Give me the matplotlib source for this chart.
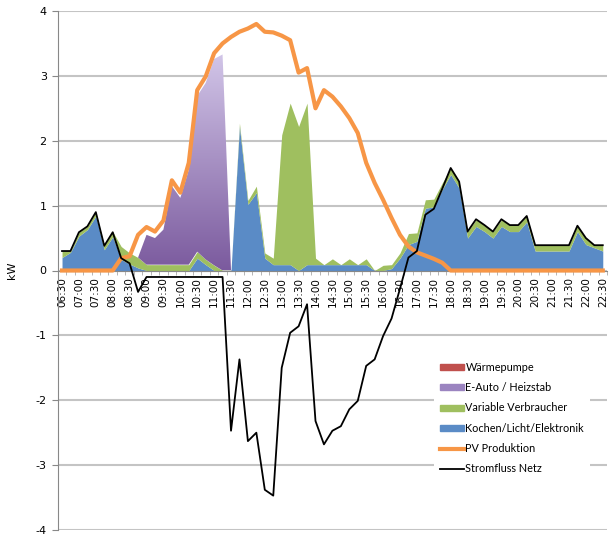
import numpy as np
import matplotlib
matplotlib.use('Agg')
import matplotlib.pyplot as plt
from matplotlib.patches import Patch
from matplotlib.lines import Line2D
from matplotlib.colors import LinearSegmentedColormap

plt.rcParams['axes.unicode_minus'] = False

# Zeitachse 06:30 - 22:30, 15-Minuten-Werte
zeiten = ['%02d:%02d' % divmod(6 * 60 + 30 + 15 * k, 60) for k in range(65)]

# Verbraucher (gestapelt), kW
kochen = [0.20, 0.28, 0.53, 0.63, 0.84, 0.32, 0.52, 0.17, 0.10, 0.04,
          0, 0, 0, 0, 0, 0, 0.19, 0.09, 0, 0,
          0, 2.22, 1.02, 1.20, 0.19, 0.09, 0.09, 0.09, 0, 0.09,
          0.09, 0.09, 0.09, 0.09, 0.09, 0.09, 0.09, 0, 0, 0.03,
          0.19, 0.40, 0.45, 0.96, 0.98, 1.25, 1.48, 1.27, 0.50, 0.68,
          0.60, 0.50, 0.68, 0.60, 0.60, 0.75, 0.30, 0.30, 0.30, 0.30,
          0.30, 0.60, 0.40, 0.35, 0.30]
variabel = [0.10, 0.02, 0.06, 0.05, 0.06, 0.06, 0.08, 0.20, 0.17, 0.16,
            0.09, 0.09, 0.09, 0.09, 0.09, 0.09, 0.10, 0.08, 0.08, 0,
            0, 0.05, 0.06, 0.10, 0.08, 0.10, 2.00, 2.49, 2.22, 2.49,
            0.10, 0, 0.09, 0, 0.09, 0, 0.09, 0, 0.08, 0.06,
            0.08, 0.17, 0.13, 0.13, 0.12, 0.10, 0.10, 0.10, 0.10, 0.10,
            0.10, 0.10, 0.10, 0.10, 0.10, 0.09, 0.09, 0.09, 0.09, 0.09,
            0.09, 0.09, 0.10, 0.04, 0.09]
eauto = [0, 0, 0, 0, 0, 0, 0, 0, 0, 0,
         0.46, 0.41, 0.54, 1.21, 1.03, 1.46, 2.40, 2.72, 3.18, 3.33,
         0, 0, 0, 0, 0, 0, 0, 0, 0, 0,
         0, 0, 0, 0, 0, 0, 0, 0, 0, 0,
         0, 0, 0, 0, 0, 0, 0, 0, 0, 0,
         0, 0, 0, 0, 0, 0, 0, 0, 0, 0,
         0, 0, 0, 0, 0]
waermepumpe = [0] * 65

pv = [0, 0, 0, 0, 0, 0, 0, 0.19, 0.22, 0.55,
      0.67, 0.60, 0.77, 1.39, 1.20, 1.66, 2.78, 2.99, 3.35, 3.50,
      3.60, 3.68, 3.73, 3.80, 3.68, 3.67, 3.62, 3.55, 3.05, 3.12,
      2.50, 2.78, 2.68, 2.53, 2.35, 2.12, 1.66, 1.35, 1.09, 0.81,
      0.55, 0.37, 0.28, 0.23, 0.18, 0.12, 0, 0, 0, 0,
      0, 0, 0, 0, 0, 0, 0, 0, 0, 0,
      0, 0, 0, 0, 0]
netz = [0.30, 0.30, 0.59, 0.68, 0.90, 0.38, 0.59, 0.19, 0.11, -0.33,
        -0.10, -0.10, -0.10, -0.10, -0.10, -0.10, -0.10, -0.10, -0.10, -0.10,
        -2.47, -1.37, -2.63, -2.50, -3.38, -3.47, -1.50, -0.96, -0.86, -0.52,
        -2.32, -2.68, -2.47, -2.40, -2.14, -2.01, -1.47, -1.37, -1.01, -0.74,
        -0.28, 0.20, 0.30, 0.86, 0.95, 1.26, 1.58, 1.37, 0.60, 0.79,
        0.70, 0.60, 0.79, 0.70, 0.70, 0.84, 0.39, 0.39, 0.39, 0.39,
        0.39, 0.69, 0.50, 0.39, 0.39]

x = np.arange(len(zeiten))
fig = plt.figure(figsize=(6.14, 5.39), dpi=100)
ax = fig.add_axes([57.8 / 614, 9 / 539, 549.2 / 614, 519 / 539])

# gestapelte Flaechen
s1 = np.array(kochen)
s2 = s1 + np.array(variabel)
s3 = s2 + np.array(eauto)
s4 = s3 + np.array(waermepumpe)

ax.fill_between(x, 0, s1, color='#5a8bc6', lw=0, zorder=2)
ax.fill_between(x, s1, s2, color='#9fbf5f', lw=0, zorder=2)
poly = ax.fill_between(x, s2, s3, color='none', lw=0, zorder=2)
grad = np.linspace(0, 1, 256).reshape(-1, 1)
cmap = LinearSegmentedColormap.from_list('lila', ['#7b5a9e', '#d2c6e8'])
im = ax.imshow(grad, extent=[x[0], x[-1], 0, s3.max()], origin='lower',
               aspect='auto', cmap=cmap, zorder=2)
im.set_clip_path(poly.get_paths()[0], transform=ax.transData)
ax.fill_between(x, s3, s4, color='#c0504d', lw=0, zorder=2)

ax.plot(x, pv, color='#f79646', lw=3, zorder=3, solid_joinstyle='round')
ax.plot(x, netz, color='black', lw=1.3, zorder=4)

# Achsen
ax.set_xlim(-0.5, 64.5)
ax.set_ylim(-4, 4)
ax.set_yticks(range(-4, 5))
ax.tick_params(axis='y', labelsize=8, length=4, color='#888888', pad=4)
ax.yaxis.grid(True, color='#c4c4c4', lw=1.5)
ax.set_axisbelow(True)
ax.spines[['top', 'right']].set_visible(False)
ax.spines['bottom'].set_position(('data', 0))
for sp in ['left', 'bottom']:
    ax.spines[sp].set_color('#888888')
ax.set_xticks(x[::2])
ax.set_xticklabels(zeiten[::2], rotation=90, fontsize=7.5)
ax.set_xticks(np.arange(-0.5, 65, 1), minor=True)
ax.tick_params(axis='x', which='major', length=0, pad=5)
ax.tick_params(axis='x', which='minor', length=3, color='#aaaaaa')
ax.set_ylabel('kW', fontsize=8)
ax.yaxis.set_label_coords(-0.074, 0.5)

handles = [Patch(color='#c0504d'), Patch(color='#9b84c0'),
           Patch(color='#9fbf5f'), Patch(color='#5a8bc6'),
           Line2D([], [], color='#f79646', lw=3),
           Line2D([], [], color='black', lw=1.3)]
labels = ['Wärmepumpe', 'E-Auto / Heizstab', 'Variable Verbraucher',
          'Kochen/Licht/Elektronik', 'PV Produktion', 'Stromfluss Netz']
leg = ax.legend(handles, labels, loc='upper left', bbox_to_anchor=(0.675, 0.347),
                frameon=True, facecolor='white', edgecolor='none', framealpha=1,
                fancybox=False, prop={'family': 'Lato', 'size': 7.8},
                handlelength=2.2, handleheight=0.5, handletextpad=0.1,
                labelspacing=0.86, borderpad=0.6)
leg.set_zorder(5)

plt.savefig('out.png', dpi=100)
